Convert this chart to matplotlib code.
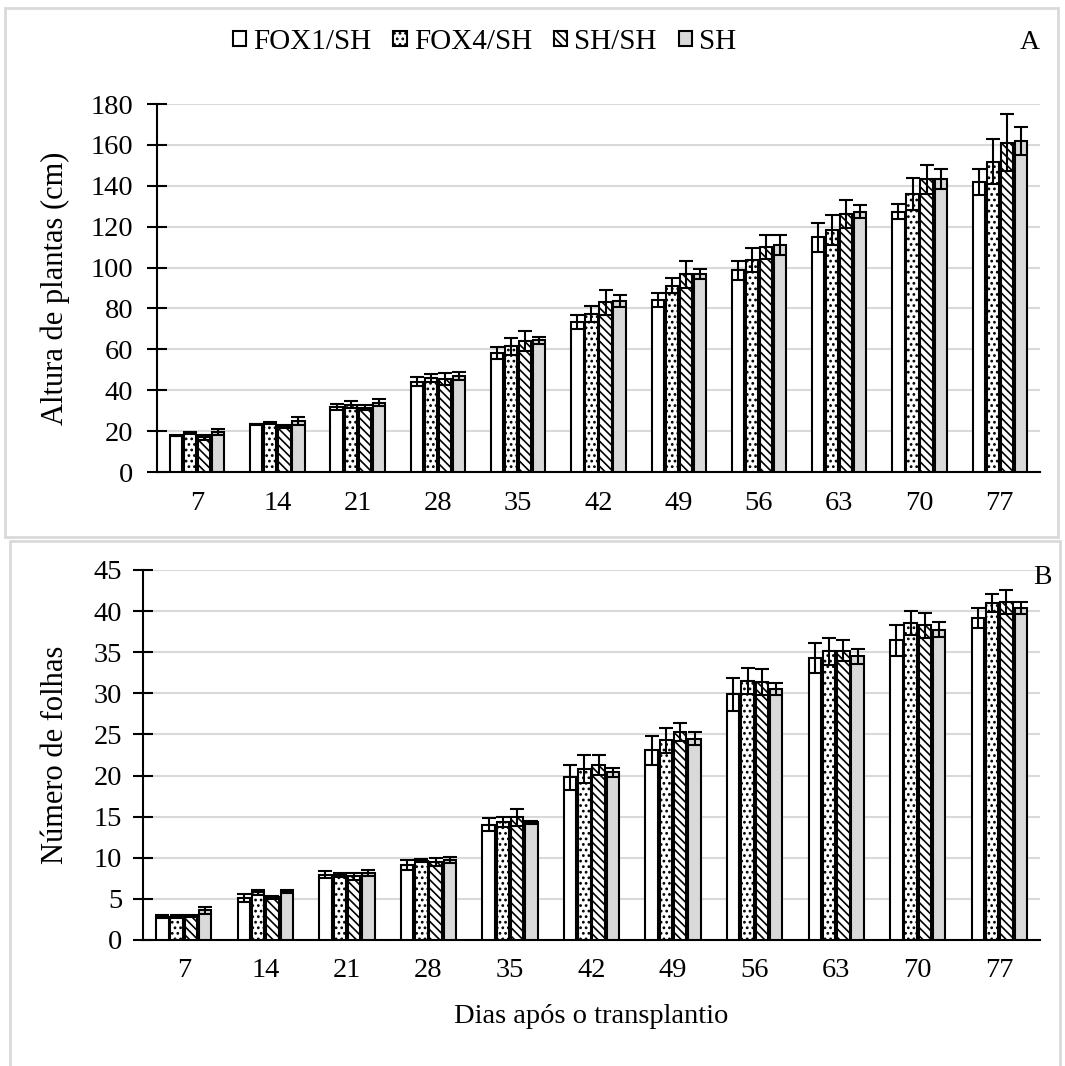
import matplotlib.pyplot as plt
import matplotlib.patches as mpatches
import numpy as np

plt.rcParams['font.family'] = ['Liberation Serif', 'DejaVu Serif']
plt.rcParams['hatch.linewidth'] = 1.2

# Days after transplanting
days = ["7", "14", "21", "28", "35", "42", "49", "56", "63", "70", "77"]
treatments = ["FOX1/SH", "FOX4/SH", "SH/SH", "SH"]

# Plant height (cm), means and error
height_fox1 = [17.8, 23.3, 31.9, 44.2, 58.2, 73.5, 84.1, 98.6, 114.8, 127.4, 142.0]
height_fox4 = [19.1, 24.1, 33.0, 45.8, 61.5, 77.3, 91.1, 103.7, 118.3, 135.8, 151.7]
height_shsh = [17.0, 22.4, 31.4, 45.5, 63.9, 83.0, 96.7, 110.2, 126.2, 143.1, 161.0]
height_sh = [19.7, 24.9, 34.0, 46.9, 64.4, 83.5, 96.7, 111.1, 127.3, 143.3, 161.9]
height_fox1_err = [0.4, 0.4, 1.4, 2.1, 3.1, 3.4, 3.3, 4.7, 7.0, 3.6, 6.4]
height_fox4_err = [0.6, 0.5, 1.6, 2.0, 4.2, 3.7, 3.6, 5.7, 7.2, 7.8, 11.0]
height_shsh_err = [1.1, 0.7, 1.3, 3.1, 4.9, 6.0, 6.6, 5.8, 7.0, 6.9, 13.9]
height_sh_err = [1.4, 1.9, 1.7, 2.1, 1.6, 2.9, 2.4, 4.9, 3.1, 4.9, 6.7]

# Number of leaves, means and error
leaves_fox1 = [2.85, 5.1, 7.95, 9.1, 14.0, 19.8, 23.05, 29.9, 34.3, 36.45, 39.2]
leaves_fox4 = [2.85, 5.8, 7.9, 9.65, 14.35, 20.8, 24.3, 31.5, 35.1, 38.55, 40.95]
leaves_shsh = [2.95, 5.2, 7.75, 9.5, 14.9, 21.3, 25.25, 31.4, 35.2, 38.25, 41.1]
leaves_sh = [3.6, 5.9, 8.15, 9.7, 14.3, 20.4, 24.5, 30.5, 34.5, 37.75, 40.35]
leaves_fox1_err = [0.2, 0.5, 0.45, 0.6, 0.8, 1.5, 1.8, 2.0, 1.8, 1.85, 1.2]
leaves_fox4_err = [0.15, 0.3, 0.2, 0.2, 0.55, 1.65, 1.5, 1.6, 1.6, 1.5, 1.1]
leaves_shsh_err = [0.15, 0.2, 0.4, 0.5, 1.05, 1.2, 1.1, 1.6, 1.25, 1.55, 1.5]
leaves_sh_err = [0.4, 0.2, 0.35, 0.35, 0.2, 0.55, 0.75, 0.7, 0.9, 0.9, 0.75]

styles = [
    dict(facecolor="white", hatch=None),
    dict(facecolor="white", hatch="..."),
    dict(facecolor="white", hatch="\\\\\\\\"),
    dict(facecolor="#d9d9d9", hatch=None),
]

fig = plt.figure(figsize=(10.65, 10.66), dpi=100)

# panel frames
for x0, y0, w, h in [(0.0047, 0.4962, 0.9887, 0.4963), (0.0094, -0.01, 0.9859, 0.5027)]:
    fig.add_artist(mpatches.Rectangle((x0, y0), w, h, transform=fig.transFigure,
                                      fill=False, edgecolor="#d9d9d9", lw=2))

ax_a = fig.add_axes([0.1474, 0.5572, 0.8291, 0.3452])
ax_b = fig.add_axes([0.1343, 0.1182, 0.8423, 0.3471])

x = np.arange(len(days))
width = 0.152
step = 0.175


def draw_bars(ax, means, errs):
    handles = []
    for i, (m, e, st) in enumerate(zip(means, errs, styles)):
        b = ax.bar(x + (i - 1.5) * step, m, width, yerr=e,
                   facecolor=st["facecolor"], hatch=st["hatch"],
                   edgecolor="black", linewidth=1.5, zorder=3,
                   error_kw=dict(ecolor="black", elinewidth=1.5, capsize=5,
                                 capthick=1.5, zorder=4))
        handles.append(b)
    ax.set_xlim(-0.5, len(days) - 0.5)
    ax.set_xticks(x)
    ax.set_xticklabels(days)
    ax.grid(axis="y", color="#d9d9d9", lw=1.5, zorder=0)
    ax.set_axisbelow(True)
    for s in ["top", "right"]:
        ax.spines[s].set_visible(False)
    ax.spines["left"].set_linewidth(1.5)
    ax.spines["bottom"].set_linewidth(1.5)
    ax.tick_params(axis="x", length=0, labelsize=20.5)
    ax.tick_params(axis="y", direction="inout", length=14, width=1.5, labelsize=20.5)
    return handles


handles = draw_bars(ax_a, [height_fox1, height_fox4, height_shsh, height_sh],
                    [height_fox1_err, height_fox4_err, height_shsh_err, height_sh_err])
ax_a.set_ylim(0, 180)
ax_a.set_yticks(range(0, 181, 20))
ax_a.tick_params(axis="x", pad=14)
ax_a.tick_params(axis="y", pad=10)
ax_a.set_ylabel("Altura de plantas (cm)", fontsize=22)
ax_a.yaxis.set_label_coords(-0.098, 0.5)

draw_bars(ax_b, [leaves_fox1, leaves_fox4, leaves_shsh, leaves_sh],
          [leaves_fox1_err, leaves_fox4_err, leaves_shsh_err, leaves_sh_err])
ax_b.set_ylim(0, 45)
ax_b.set_yticks(range(0, 46, 5))
ax_b.tick_params(axis="x", pad=13)
ax_b.tick_params(axis="y", pad=8)
ax_b.set_ylabel("Número de folhas", fontsize=22)
ax_b.yaxis.set_label_coords(-0.081, 0.5)
ax_b.set_xlabel("Dias após o transplantio", fontsize=20.5, labelpad=15)

fig.legend(handles, treatments, loc="center", bbox_to_anchor=(0.455, 0.9606),
           ncol=4, frameon=False, fontsize=21, handlelength=0.45, handleheight=0.45,
           handletextpad=0.25, columnspacing=0.75)

fig.text(0.967, 0.9606, "A", fontsize=20, ha="center", va="center")
fig.text(0.979, 0.458, "B", fontsize=20, ha="center", va="center")

fig.savefig("out.png", dpi=100)
